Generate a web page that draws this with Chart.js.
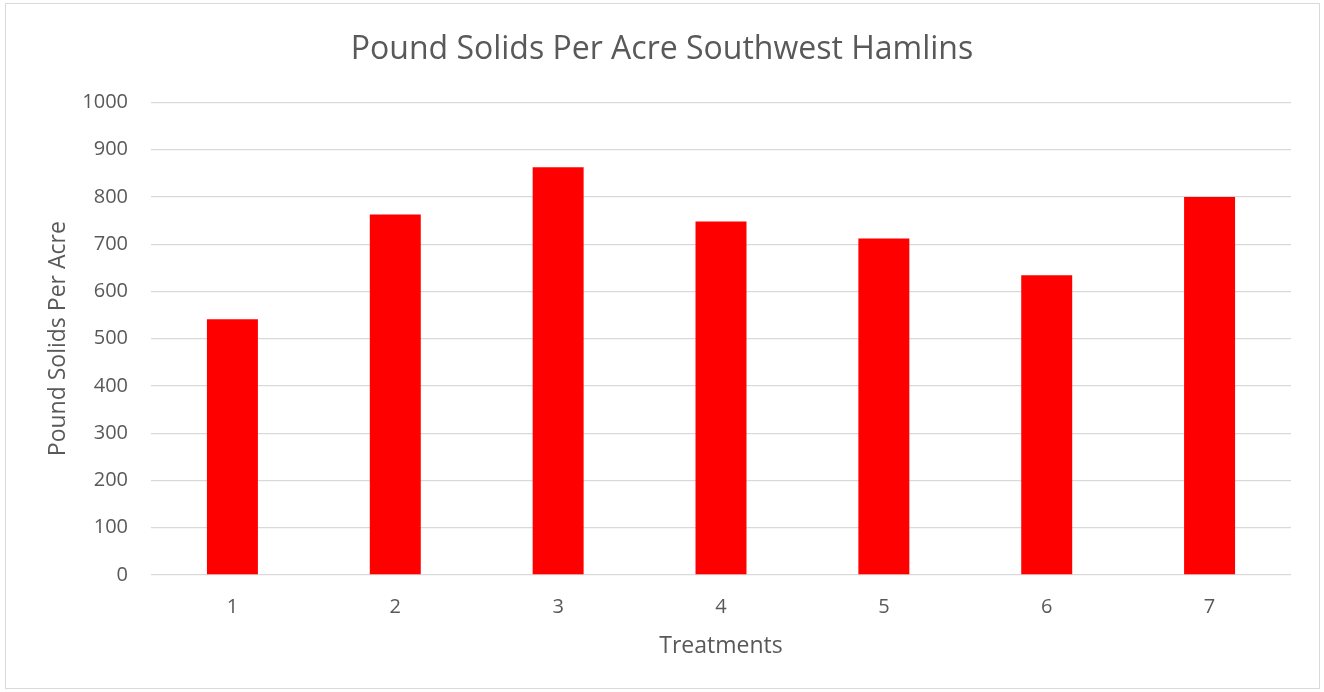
<!DOCTYPE html>
<html>
<head>
<meta charset="utf-8">
<script src="https://cdn.jsdelivr.net/npm/chart.js@4/dist/chart.umd.min.js"></script>
<style>
  html, body { margin: 0; padding: 0; background: #fff; }
  #wrap { position: relative; width: 1324px; height: 692px; }
  #khung { position: absolute; left: 5px; top: 3px; width: 1313px; height: 684px; border: 1px solid #d9d9d9; pointer-events: none; }
</style>
</head>
<body>
<div id="wrap">
  <canvas id="chartSolids" width="1324" height="692"></canvas>
  <div id="khung"></div>
</div>
<script>
// Dữ liệu
var _labels = ['1', '2', '3', '4', '5', '6', '7'];
var _values = [541, 763, 863, 748, 712, 634, 800];
var _yTicks = [0, 100, 200, 300, 400, 500, 600, 700, 800, 900, 1000];

var _font = "'Open Sans', 'Liberation Sans', sans-serif";
var _gray = '#595959';

function renderDoThi(labels, values) {
    var ctx = document.getElementById('chartSolids').getContext('2d');
    return new Chart(ctx, {
        type: 'bar',
        data: {
            labels: labels,
            datasets: [{
                label: 'Pound Solids Per Acre',
                data: values,
                backgroundColor: '#ff0000',
                borderWidth: 0,
                categoryPercentage: 1,
                barPercentage: 0.313
            }]
        },
        options: {
            responsive: false,
            animation: false,
            layout: { padding: 0 },
            plugins: {
                legend: { display: false },
                tooltip: { enabled: false },
                title: {
                    display: true,
                    text: 'Pound Solids Per Acre Southwest Hamlins',
                    color: _gray,
                    font: { family: _font, size: 32, weight: 'normal' },
                    padding: { top: 31, bottom: 33 }
                }
            },
            scales: {
                y: {
                    min: 0,
                    max: 1000,
                    afterBuildTicks: function (scale) {
                        scale.ticks = _yTicks.map(function (v) { return { value: v }; });
                    },
                    afterFit: function (scale) { scale.width = 151; },
                    border: { display: false },
                    grid: { color: '#d9d9d9', lineWidth: 1.3, drawTicks: false },
                    ticks: {
                        color: _gray,
                        font: { family: _font, size: 20 },
                        padding: 23,
                        callback: function (v) { return String(v); }
                    },
                    title: {
                        display: true,
                        text: 'Pound Solids Per Acre',
                        color: _gray,
                        font: { family: _font, size: 23, weight: 'normal' },
                        padding: { top: 45, bottom: 0 }
                    }
                },
                // trục phụ bên phải chỉ để giữ khoảng trống, tiêu đề nằm giữa
                yPhai: {
                    position: 'right',
                    display: true,
                    afterFit: function (scale) { scale.width = 33; },
                    border: { display: false },
                    grid: { display: false },
                    ticks: { display: false }
                },
                x: {
                    afterFit: function (scale) { scale.height = 117; },
                    border: { display: false },
                    grid: { display: false, drawTicks: false },
                    ticks: { color: _gray, font: { family: _font, size: 20 }, padding: 20 },
                    title: {
                        display: true,
                        text: 'Treatments',
                        color: _gray,
                        font: { family: _font, size: 23, weight: 'normal' },
                        padding: { top: 0, bottom: 32 }
                    }
                }
            }
        }
    });
}

renderDoThi(_labels, _values);
</script>
</body>
</html>
